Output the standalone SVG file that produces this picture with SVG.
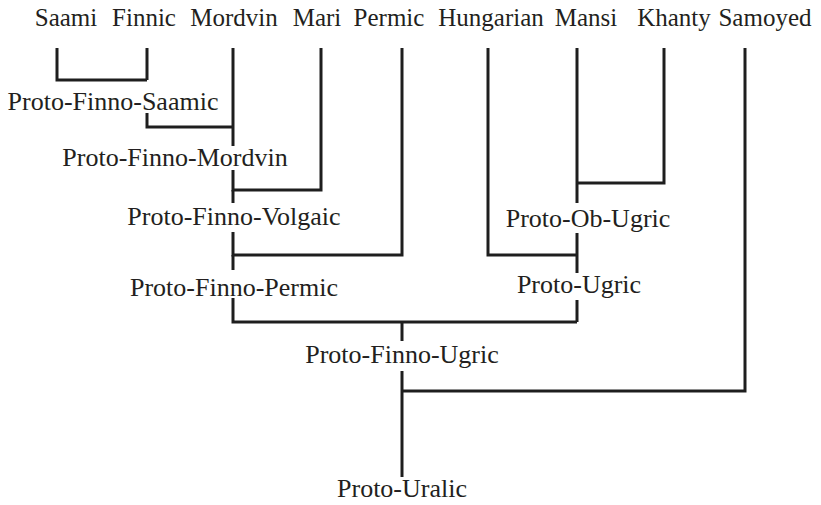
<svg xmlns="http://www.w3.org/2000/svg" width="821" height="505" viewBox="0 0 821 505">
<style>
text{font-family:"Liberation Serif","Times New Roman",serif;font-size:25px;fill:#231f20;text-anchor:middle}
text.p{font-size:26px}
.c{fill:none;stroke:#1e1e1e;stroke-width:3;stroke-linecap:butt;stroke-linejoin:miter}
</style>
<rect width="821" height="505" fill="#ffffff"/>
<g id="connectors" class="c">
<path d="M57 48 V80 H147 M147 48 V80"/>
<path d="M147 113 V127 H233"/>
<path d="M233 48 V146"/>
<path d="M233 170 V190 H321 V48"/>
<path d="M233 190 V203"/>
<path d="M233 232 V255 H402 V48"/>
<path d="M233 255 V270"/>
<path d="M233 298 V322 H577"/>
<path d="M488 48 V255 H577"/>
<path d="M577 48 V203 M664 48 V183 H577"/>
<path d="M577 233 V273"/>
<path d="M577 300 V322"/>
<path d="M402 322 V341"/>
<path d="M402 371 V477"/>
<path d="M402 391 H745 V48"/>
</g>
<g id="saami"><text x="66" y="26">Saami</text></g>
<g id="finnic"><text x="144" y="26">Finnic</text></g>
<g id="mordvin"><text x="234" y="26">Mordvin</text></g>
<g id="mari"><text x="317" y="26">Mari</text></g>
<g id="permic"><text x="389" y="26">Permic</text></g>
<g id="hungarian"><text x="491" y="26">Hungarian</text></g>
<g id="mansi"><text x="586" y="26">Mansi</text></g>
<g id="khanty"><text x="674" y="26">Khanty</text></g>
<g id="samoyed"><text x="765" y="26">Samoyed</text></g>
<g id="proto-finno-saamic"><text class="p" x="113" y="110">Proto-Finno-Saamic</text></g>
<g id="proto-finno-mordvin"><text class="p" x="175" y="166">Proto-Finno-Mordvin</text></g>
<g id="proto-finno-volgaic"><text class="p" x="234" y="225">Proto-Finno-Volgaic</text></g>
<g id="proto-finno-permic"><text class="p" x="234" y="296">Proto-Finno-Permic</text></g>
<g id="proto-ob-ugric"><text class="p" x="588" y="227">Proto-Ob-Ugric</text></g>
<g id="proto-ugric"><text class="p" x="579" y="293">Proto-Ugric</text></g>
<g id="proto-finno-ugric"><text class="p" x="402" y="363">Proto-Finno-Ugric</text></g>
<g id="proto-uralic"><text class="p" x="402" y="497">Proto-Uralic</text></g>
</svg>
